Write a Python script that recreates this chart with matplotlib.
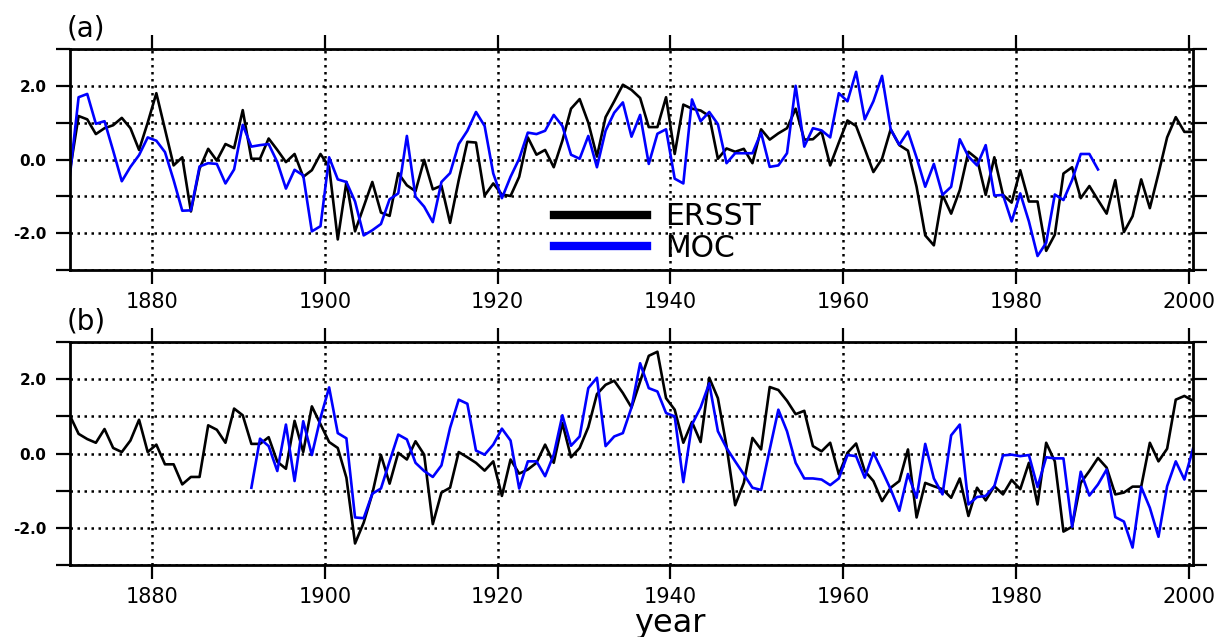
import matplotlib
matplotlib.use("Agg")
import matplotlib.pyplot as plt
import numpy as np

years = np.arange(1870, 2001)

# (a) ERSST 1870-2000
ersstA = [-0.30, 1.18, 1.09, 0.69, 0.85, 0.93, 1.13, 0.85, 0.26, 1.00,
          1.80, 0.82, -0.16, 0.06, -1.41, -0.25, 0.29, -0.03, 0.42, 0.31,
          1.34, 0.02, 0.02, 0.57, 0.26, -0.07, 0.15, -0.47, -0.29, 0.15,
          -0.20, -2.17, -0.61, -1.95, -1.28, -0.61, -1.44, -1.53, -0.37, -0.70,
          -0.86, -0.01, -0.81, -0.71, -1.72, -0.56, 0.48, 0.46, -0.98, -0.65,
          -0.95, -0.99, -0.47, 0.60, 0.13, 0.26, -0.21, 0.51, 1.38, 1.64,
          1.00, 0.08, 1.15, 1.58, 2.03, 1.89, 1.67, 0.88, 0.88, 1.69,
          0.15, 1.49, 1.38, 1.33, 1.18, 0.02, 0.30, 0.21, 0.29, -0.10,
          0.82, 0.54, 0.71, 0.85, 1.38, 0.54, 0.55, 0.76, -0.16, 0.46,
          1.06, 0.91, 0.29, -0.34, 0.02, 0.82, 0.39, 0.24, -0.74, -2.06,
          -2.33, -0.96, -1.47, -0.83, 0.21, 0.02, -0.96, 0.06, -0.96, -1.17,
          -0.29, -1.14, -1.14, -2.48, -2.04, -0.38, -0.21, -1.05, -0.72, -1.10,
          -1.47, -0.56, -1.97, -1.54, -0.54, -1.32, -0.38, 0.60, 1.15, 0.75,
          0.75]

# (a) MOC 1870-1989
mocA = [-0.43, 1.69, 1.78, 0.97, 1.04, 0.24, -0.59, -0.20, 0.12, 0.60,
        0.51, 0.20, -0.56, -1.39, -1.38, -0.19, -0.10, -0.12, -0.65, -0.27,
        0.94, 0.35, 0.39, 0.42, -0.07, -0.79, -0.28, -0.43, -1.95, -1.81,
        0.06, -0.54, -0.61, -1.14, -2.06, -1.92, -1.75, -1.08, -0.92, 0.64,
        -1.01, -1.28, -1.70, -0.61, -0.37, 0.42, 0.78, 1.29, 0.91, -0.38,
        -1.05, -0.47, 0.02, 0.73, 0.69, 0.78, 1.21, 0.91, 0.13, 0.02,
        0.64, -0.21, 0.78, 1.27, 1.55, 0.62, 1.21, -0.12, 0.70, 0.82,
        -0.52, -0.65, 1.63, 1.04, 1.29, 0.96, -0.10, 0.17, 0.17, 0.17,
        0.73, -0.20, -0.16, 0.17, 2.00, 0.35, 0.85, 0.79, 0.60, 1.80,
        1.58, 2.38, 1.09, 1.58, 2.27, 0.82, 0.40, 0.76, 0.05, -0.74,
        -0.12, -0.96, -0.74, 0.55, 0.08, -0.16, 0.39, -0.98, -0.96, -1.68,
        -0.92, -1.68, -2.62, -2.26, -0.95, -1.10, -0.56, 0.15, 0.15, -0.27]

# (b) ERSST 1870-2000
ersstB = [1.02, 0.53, 0.39, 0.29, 0.66, 0.15, 0.04, 0.35, 0.91, 0.04,
          0.24, -0.29, -0.29, -0.83, -0.63, -0.63, 0.76, 0.64, 0.29, 1.21,
          1.03, 0.26, 0.26, 0.44, -0.22, -0.41, 0.88, 0.04, 1.27, 0.79,
          0.31, 0.15, -0.65, -2.42, -1.86, -1.08, -0.04, -0.81, 0.02, -0.16,
          0.33, -0.03, -1.90, -1.05, -0.92, 0.04, -0.10, -0.25, -0.46, -0.21,
          -1.14, -0.16, -0.54, -0.43, -0.25, 0.24, -0.25, 0.82, -0.10, 0.15,
          0.71, 1.60, 1.85, 1.96, 1.63, 1.24, 1.94, 2.63, 2.74, 1.49,
          1.18, 0.29, 0.85, 0.31, 2.04, 1.49, 0.20, -1.39, -0.79, 0.42,
          0.11, 1.79, 1.71, 1.42, 1.06, 1.15, 0.20, 0.06, 0.29, -0.56,
          0.02, 0.27, -0.47, -0.74, -1.28, -0.92, -0.74, 0.11, -1.72, -0.79,
          -0.88, -0.96, -1.19, -0.67, -1.68, -0.92, -1.26, -0.88, -1.10, -0.71,
          -0.96, -0.25, -1.37, 0.29, -0.21, -2.10, -1.97, -0.79, -0.47, -0.12,
          -0.38, -1.10, -1.05, -0.89, -0.89, 0.29, -0.21, 0.13, 1.45, 1.55,
          1.42]

# (b) MOC 1891-2000
mocB = [-0.92, 0.40, 0.20, -0.47, 0.78, -0.74, 0.87, -0.04, 0.96,
        1.78, 0.55, 0.41, -1.72, -1.74, -1.08, -0.94, -0.21, 0.51, 0.38,
        -0.25, -0.47, -0.63, -0.32, 0.69, 1.45, 1.34, 0.08, -0.03, 0.24,
        0.67, 0.35, -0.94, -0.21, -0.21, -0.61, -0.03, 1.03, 0.21, 0.46,
        1.76, 2.04, 0.20, 0.46, 0.55, 1.24, 2.43, 1.76, 1.67, 1.09,
        1.00, -0.77, 0.78, 1.24, 1.89, 0.60, 0.15, -0.21, -0.56, -0.92,
        -0.98, 0.11, 1.18, 0.60, -0.25, -0.67, -0.67, -0.70, -0.85, -0.67,
        -0.04, -0.07, -0.65, 0.02, -0.46, -0.96, -1.54, -0.55, -1.19, 0.26,
        -0.67, -1.10, 0.49, 0.78, -1.37, -1.17, -1.14, -0.88, -0.05, -0.03,
        -0.07, -0.04, -0.90, -0.10, -0.13, -0.13, -1.97, -0.49, -1.13, -0.83,
        -0.43, -1.71, -1.83, -2.53, -0.90, -1.46, -2.24, -0.88, -0.21, -0.70,
        0.13]

xTicks = [1880, 1900, 1920, 1940, 1960, 1980, 2000]
yTicks = [-3, -2, -1, 0, 1, 2, 3]
yTickLabels = ['', '-2.0', '', '0.0', '', '2.0', '']
panelLabels = ['(a)', '(b)']

fig = plt.figure(figsize=(12.23, 6.37), dpi=100)
axA = fig.add_axes([0.0572, 0.5761, 0.9183, 0.347])
axB = fig.add_axes([0.0572, 0.1130, 0.9183, 0.350])

mocYearsA = years[:len(mocA)]
mocYearsB = years[-len(mocB):]

lineE, = axA.plot(years + 0.5, ersstA, color='black', lw=1.9, label='ERSST')
lineM, = axA.plot(mocYearsA + 0.5, mocA, color='blue', lw=1.9, label='MOC')
axB.plot(years + 0.5, ersstB, color='black', lw=1.9)
axB.plot(mocYearsB + 0.5, mocB, color='blue', lw=1.9)

for ax in [axA, axB]:
    ax.set_xlim(1870.5, 2000.5)
    ax.set_ylim(-3, 3)
    ax.set_xticks(xTicks)
    ax.set_xticklabels([str(t) for t in xTicks], fontsize=15)
    ax.set_yticks(yTicks)
    ax.set_yticklabels(yTickLabels, fontsize=11, fontweight='bold')
    ax.tick_params(direction='out', length=10, width=1.6, top=True, right=True)
    ax.tick_params(axis='x', pad=6)
    ax.tick_params(axis='y', pad=7)
    for s in ax.spines.values():
        s.set_linewidth(2.0)
    ax.grid(True, color='black', linestyle=(0, (1, 1.8)), linewidth=1.8)

leg = axA.legend(handles=[lineE, lineM], loc='center left', bbox_to_anchor=(0.431, 0.17),
                 frameon=False, fontsize=21.5, handlelength=3.1, handletextpad=0.63,
                 labelspacing=0.1, borderpad=0, borderaxespad=0)
for h in leg.legend_handles:
    h.set_linewidth(6)

fig.text(67 / 1223, 1 - 36 / 637, panelLabels[0], fontsize=20, va='baseline')
fig.text(67 / 1223, 1 - 329 / 637, panelLabels[1], fontsize=20, va='baseline')
fig.text(670 / 1223, 5 / 637, 'year', fontsize=23, ha='center', va='baseline')

fig.savefig('out.png', dpi=100)
